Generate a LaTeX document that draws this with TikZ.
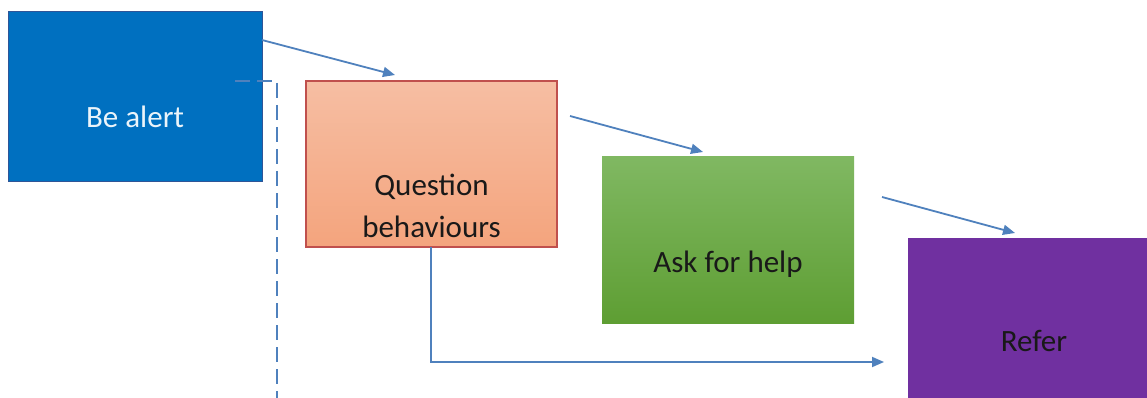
\documentclass[tikz,border=0pt]{standalone}
\usepackage{fontspec}
\setmainfont{Carlito}
\usetikzlibrary{arrows.meta,calc}
\definecolor{arrowblue}{HTML}{4F81BD}
\definecolor{alertblue}{HTML}{0070C0}
\definecolor{alertborder}{HTML}{2F5597}
\definecolor{qtop}{HTML}{F6BEA3}
\definecolor{qbot}{HTML}{F4A47D}
\definecolor{qborder}{HTML}{C0504D}
\definecolor{gtop}{HTML}{80B862}
\definecolor{gbot}{HTML}{5E9E33}
\definecolor{referpurple}{HTML}{7030A0}
\begin{document}
\begin{tikzpicture}[x=1pt,y=-1pt,
  box/.style={rectangle, inner sep=0pt, outer sep=0pt, anchor=north west},
  arr/.style={draw=arrowblue, line width=1.8pt, -{Triangle[length=12pt,width=10pt]}},
  dashline/.style={draw=arrowblue, line width=1.8pt, dash pattern=on 15pt off 7pt},
  txt/.style={font=\fontsize{31}{42}\selectfont, align=center, inner sep=0pt}]
\useasboundingbox (0,0) rectangle (1147,398);
\fill[white] (0,0) rectangle (1147,398);
\clip (0,0) rectangle (1147,398);
% boxes
\node[box, minimum width=254pt, minimum height=169pt, fill=alertblue, draw=alertborder, line width=1pt] (be) at (8,12) {};
\node[box, minimum width=251pt, minimum height=166pt, top color=qtop, bottom color=qbot, draw=qborder, line width=1.5pt] (q) at (306,81) {};
\node[box, minimum width=252pt, minimum height=166pt, top color=gtop, bottom color=gbot] (help) at (602,157) {};
\node[box, minimum width=250pt, minimum height=180pt, fill=referpurple] (refer) at (908,238) {};
% texts
\node[txt, text=white!92!alertblue] (tbe) at ($(be.center)+(0,20)$) {Be alert};
\node[txt, text=black!90] (tq) at ($(q.center)+(0,42)$) {Question\\behaviours};
\node[txt, text=black!90] (thelp) at ($(help.center)+(0,24)$) {Ask for help};
\node[txt, text=black!90] (trefer) at ($(refer.north west)+(126,103)$) {Refer};
% connectors
\draw[arr] ($(be.north east)+(0,28)$) -- ($(q.north west)+(89,-6)$);
\draw[arr] ($(q.north east)+(13,35)$) -- ($(help.north west)+(101,-5)$);
\draw[arr] ($(help.north east)+(28,40)$) -- ($(refer.north west)+(107,-5)$);
\coordinate (elbowend) at (884,362);
\draw[arr] ($(q.south)+(-0.5,0)$) |- (elbowend);
\coordinate (dashend) at (277,400);
\draw[dashline] ($(be.north east)+(-27,69)$) -| (dashend);
\end{tikzpicture}
\end{document}
